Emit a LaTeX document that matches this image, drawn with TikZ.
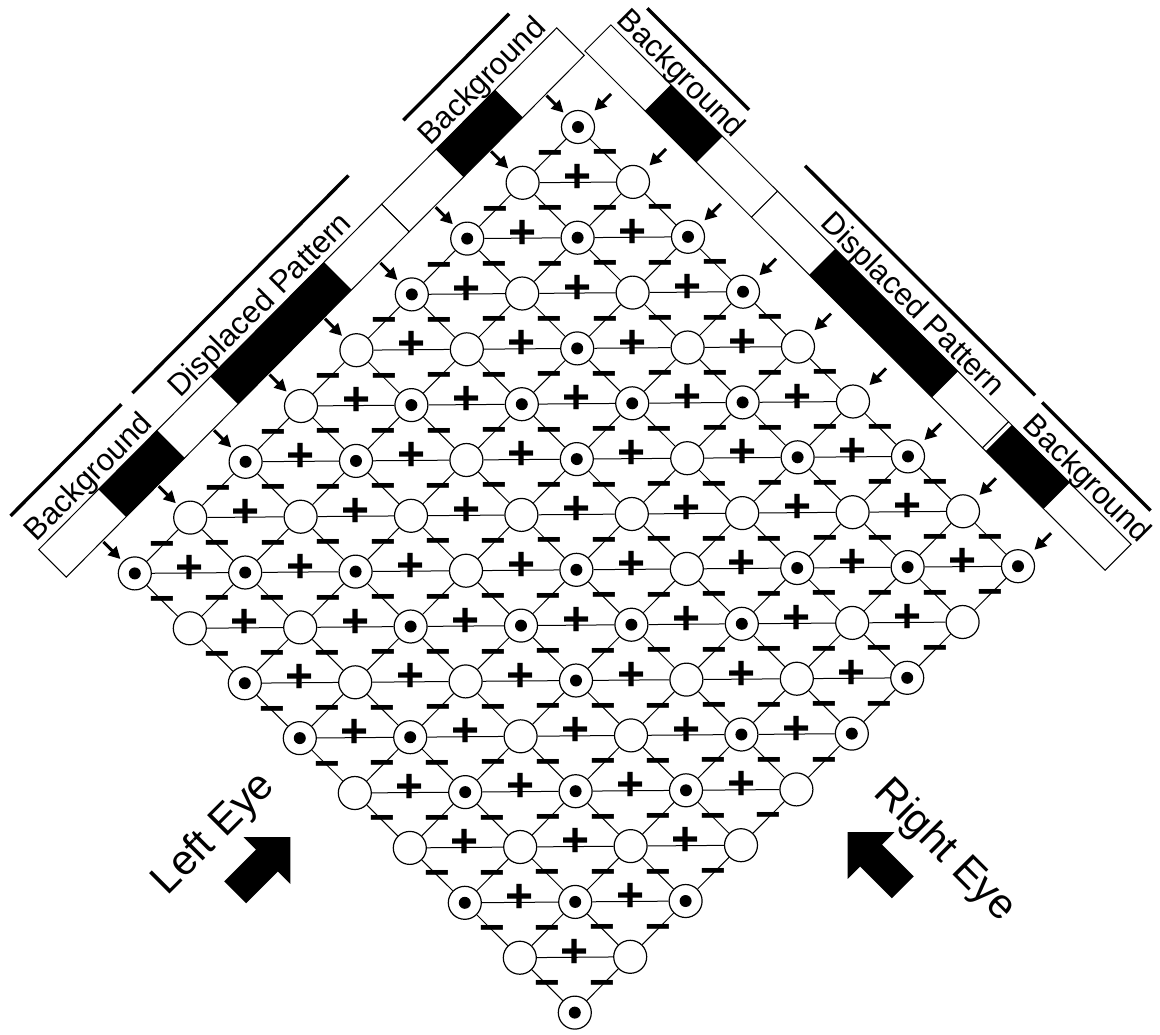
\documentclass[tikz,border=0pt]{standalone}
\usepackage{fontspec}
\setmainfont{Liberation Sans}
\usetikzlibrary{arrows.meta}

% black (1) or white (0) element k of the random-dot pattern
\newcommand{\patof}[1]{\ifcase#1 0\or1\or0\or0\or1\or1\or0\or1\or0\fi}

\begin{document}
\begin{tikzpicture}[
  x=0.5pt, y=-0.5pt,
  cell/.style={circle, draw, line width=0.6pt, fill=white, minimum size=16.5pt, inner sep=0pt},
  wire/.style={line width=0.5pt},
  minus/.style={font=\fontsize{22}{22}\selectfont\bfseries, inner sep=0pt, yshift=-2pt},
  plus/.style={font=\fontsize{24}{24}\selectfont\bfseries, inner sep=0pt, yshift=2pt},
  band/.style={draw, line width=0.5pt, fill=white},
  over/.style={line width=1.7pt},
  sight/.style={-{Triangle[length=6pt,width=6pt]}, line width=1.5pt},
  tag/.style={font=\fontsize{15.5}{18}\selectfont, inner sep=0pt, anchor=base},
  eye/.style={font=\fontsize{21}{24}\selectfont, inner sep=0pt, anchor=base}
]
\useasboundingbox (0,0) rectangle (1160,1034);

% left eye strip
\begin{scope}[shift={(578,127)}, x={(-27.7pt,-27.9pt)}, y={(-0.35355pt,0.35355pt)}]
  \draw[band] (-0.7,46) -- (2.46,46) -- (2.46,85) -- (-0.7,85) -- cycle;
  \draw[band] (2.46,46) -- (6.52,46) -- (6.52,85) -- (2.46,85) -- cycle;
  \draw[band] (6.52,46) -- (8.65,46) -- (8.65,85) -- (6.52,85) -- cycle;
  \fill (0.41,46) -- (1.48,46) -- (1.48,85) -- (0.41,85) -- cycle;
  \fill (3.5,46) -- (5.55,46) -- (5.55,85) -- (3.5,85) -- cycle;
  \fill (6.52,46) -- (7.57,46) -- (7.57,85) -- (6.52,85) -- cycle;
  \draw[over] (-0.4,128.7) -- (1.51,128.7);
  \draw[over] (2.5,128.7) -- (6.4,128.7);
  \draw[over] (6.6,128.7) -- (8.6,128.7);
  \node[tag, rotate=45] (ltop) at (0.45,91) {Background};
  \node[tag, rotate=45] (lmid) at (4.46,91) {Displaced Pattern};
  \node[tag, rotate=45] (lbot) at (7.55,91) {Background};
  \foreach \t in {0,...,8} \coordinate (la\t) at (\t,44.5);
\end{scope}

% right eye strip
\begin{scope}[shift={(578,127)}, x={(27.5pt,-27.45pt)}, y={(0.35355pt,0.35355pt)}]
  \draw[band] (-0.63,58.7) -- (2.4,58.7) -- (2.4,95.5) -- (-0.63,95.5) -- cycle;
  \draw[band] (2.4,58.7) -- (6.6,58.7) -- (6.6,95.5) -- (2.4,95.5) -- cycle;
  \draw[band] (6.6,58.7) -- (8.83,58.7) -- (8.83,95.5) -- (6.6,95.5) -- cycle;
  \fill (0.46,58.7) -- (1.4,58.7) -- (1.4,95.5) -- (0.46,95.5) -- cycle;
  \fill (3.45,58.7) -- (5.68,58.7) -- (5.68,95.5) -- (3.45,95.5) -- cycle;
  \fill (6.66,58.7) -- (7.71,58.7) -- (7.71,95.5) -- (6.66,95.5) -- cycle;
  \draw[over] (-0.45,133) -- (1.4,133);
  \draw[over] (2.42,133) -- (6.6,133);
  \draw[over] (6.73,133) -- (8.7,133);
  \node[tag, rotate=-45] (rtop) at (0.45,101) {Background};
  \node[tag, rotate=-45] (rmid) at (4.66,101) {Displaced Pattern};
  \node[tag, rotate=-45] (rbot) at (7.83,101) {Background};
  \foreach \t in {0,...,8} \coordinate (ra\t) at (\t,46.7);
\end{scope}

% cells; a dot where left and right pattern agree
\foreach \i in {0,...,8}{
  \foreach \j in {0,...,8}{
    \node[cell] (n\i\j) at ({578-55.4*\i+55*\j},{127+55.8*\i+54.9*\j}) {};
    \ifnum\patof{\i}=\patof{\j}\relax
      \fill (n\i\j.center) circle (3pt);
    \fi
  }
}

% inhibitory links along the lines of sight
\foreach \i in {0,...,7}{
  \pgfmathtruncatemacro\k{\i+1}
  \foreach \j in {0,...,8}{
    \draw[wire] (n\i\j) -- node[minus]{−} (n\k\j);
    \draw[wire] (n\j\i) -- node[minus]{−} (n\j\k);
  }
}
% excitatory links
\foreach \i in {1,...,8}{
  \pgfmathtruncatemacro\h{\i-1}
  \foreach \j in {0,...,7}{
    \pgfmathtruncatemacro\k{\j+1}
    \draw[wire] (n\i\j) -- node[plus]{+} (n\h\k);
  }
}

% lines of sight
\foreach \t in {0,...,8}{
  \draw[sight, shorten >=1.6pt] (la\t) -- (n\t0);
  \draw[sight, shorten >=3pt] (ra\t) -- (n0\t);
}

% eyes
\fill[shift={(267,860.5)}, rotate=45] (-45,-15.5) -- (0,-15.5) -- (0,-33) -- (33,0) -- (0,33) -- (0,15.5) -- (-45,15.5) -- cycle;
\fill[shift={(871,855.5)}, rotate=135] (-45,-15.5) -- (0,-15.5) -- (0,-33) -- (33,0) -- (0,33) -- (0,15.5) -- (-45,15.5) -- cycle;
\node[eye, rotate=45] (leye) at (222,842) {Left Eye};
\node[eye, rotate=-45] (reye) at (937,859) {Right Eye};
\end{tikzpicture}
\end{document}
